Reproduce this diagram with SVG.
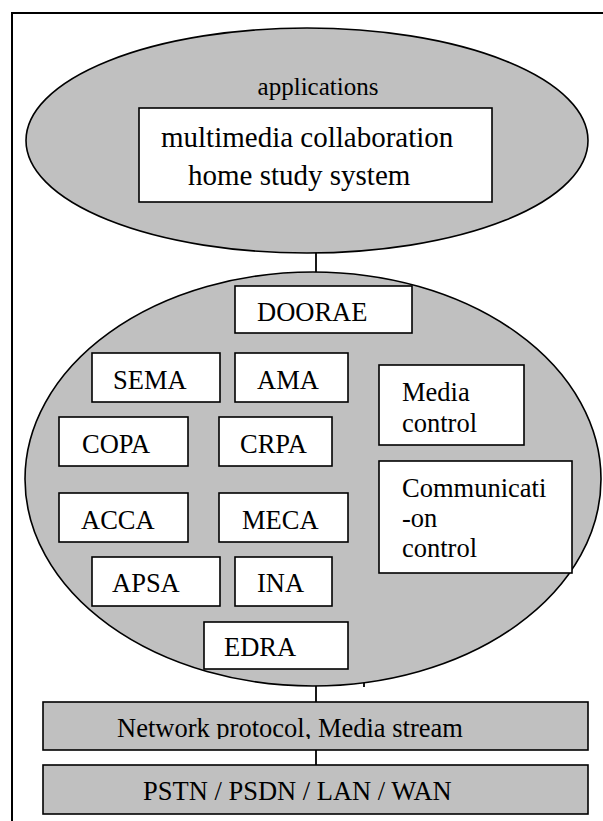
<svg xmlns="http://www.w3.org/2000/svg" width="603" height="821" viewBox="0 0 603 821">
  <style>
    text { font-family: "Liberation Serif", "Times New Roman", serif; fill: #000; }
    .lbl { font-size: 26.5px; }
    .box { fill: #fff; stroke: #000; stroke-width: 1.6; }
    .layer { fill: #c0c0c0; stroke: #000; stroke-width: 1.6; }
    .wire { stroke: #000; stroke-width: 1.8; fill: none; }
  </style>
  <defs>
    <clipPath id="netClip">
      <rect x="43" y="702" width="545" height="37"/>
    </clipPath>
  </defs>

  <rect width="603" height="821" fill="#fff"/>
  <!-- outer frame (runs off the right and bottom edges) -->
  <rect x="12" y="13" width="610" height="830" fill="none" stroke="#000" stroke-width="2"/>

  <!-- connectors -->
  <g id="connectors">
    <line class="wire" x1="316" y1="252" x2="316" y2="273"/>
    <line class="wire" x1="364" y1="333" x2="364" y2="687"/>
    <line class="wire" x1="316" y1="685" x2="316" y2="702"/>
    <line class="wire" x1="316" y1="750" x2="316" y2="765"/>
  </g>

  <!-- application layer -->
  <g id="applications">
    <ellipse class="layer" cx="307" cy="140.5" rx="281" ry="112.5"/>
    <text x="318" y="95" font-size="25" text-anchor="middle">applications</text>
  </g>
  <g id="study-system">
    <rect class="box" x="139" y="108" width="353" height="94"/>
    <text x="161" y="147" font-size="29">multimedia collaboration</text>
    <text x="188" y="185" font-size="29">home study system</text>
  </g>

  <!-- DOORAE middleware -->
  <g id="middleware">
    <ellipse class="layer" cx="313" cy="479" rx="288" ry="207"/>
  </g>
  <g id="doorae">
    <rect class="box" x="235" y="286" width="177" height="47"/>
    <text class="lbl" x="257" y="321">DOORAE</text>
  </g>
  <g id="sema">
    <rect class="box" x="92" y="353" width="128" height="49"/>
    <text class="lbl" x="113" y="389">SEMA</text>
  </g>
  <g id="ama">
    <rect class="box" x="235" y="353" width="113" height="49"/>
    <text class="lbl" x="257" y="389">AMA</text>
  </g>
  <g id="copa">
    <rect class="box" x="59" y="417" width="129" height="49"/>
    <text class="lbl" x="82" y="453">COPA</text>
  </g>
  <g id="crpa">
    <rect class="box" x="219" y="417" width="113" height="49"/>
    <text class="lbl" x="240" y="453">CRPA</text>
  </g>
  <g id="acca">
    <rect class="box" x="59" y="493" width="129" height="49"/>
    <text class="lbl" x="81" y="529">ACCA</text>
  </g>
  <g id="meca">
    <rect class="box" x="219" y="493" width="129" height="49"/>
    <text class="lbl" x="242" y="529">MECA</text>
  </g>
  <g id="apsa">
    <rect class="box" x="92" y="557" width="128" height="49"/>
    <text class="lbl" x="112" y="592">APSA</text>
  </g>
  <g id="ina">
    <rect class="box" x="235" y="557" width="97" height="49"/>
    <text class="lbl" x="257" y="592">INA</text>
  </g>
  <g id="edra">
    <rect class="box" x="204" y="622" width="144" height="47"/>
    <text class="lbl" x="224" y="656">EDRA</text>
  </g>
  <g id="media-control">
    <rect class="box" x="379" y="365" width="145" height="80"/>
    <text class="lbl" x="402" y="401">Media</text>
    <text class="lbl" x="402" y="432">control</text>
  </g>
  <g id="communication-control">
    <rect class="box" x="379" y="461" width="193" height="112"/>
    <text class="lbl" x="402" y="497">Communicati</text>
    <text class="lbl" x="402" y="527">-on</text>
    <text class="lbl" x="402" y="557">control</text>
  </g>

  <!-- transport layers -->
  <g id="network-protocol">
    <rect class="layer" x="43" y="702" width="545" height="48" stroke-width="2"/>
    <text class="lbl" x="117" y="737" clip-path="url(#netClip)">Network protocol, Media stream</text>
  </g>
  <g id="physical-network">
    <rect class="layer" x="43" y="765" width="545" height="49" stroke-width="2"/>
    <text class="lbl" x="143" y="800">PSTN / PSDN / LAN / WAN</text>
  </g>
</svg>
